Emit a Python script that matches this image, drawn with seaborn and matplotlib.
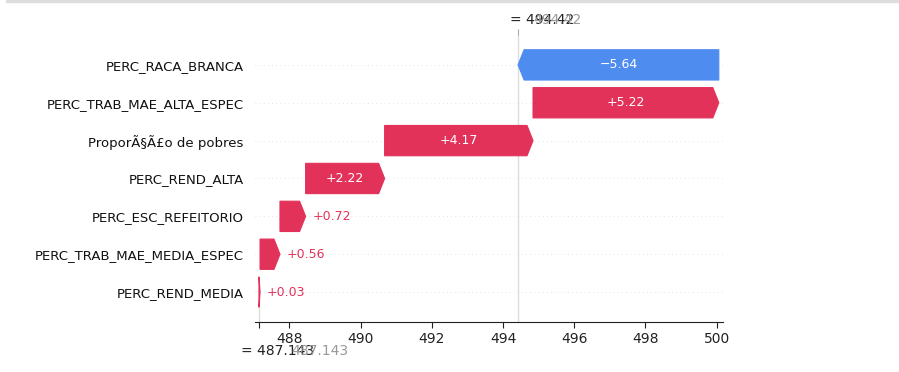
import matplotlib
matplotlib.use("Agg")
import matplotlib.pyplot as plt
import numpy as np
import seaborn as sns

# data (bottom row first)
features = ["PERC_REND_MEDIA", "PERC_TRAB_MAE_MEDIA_ESPEC", "PERC_ESC_REFEITORIO",
            "PERC_REND_ALTA", "ProporÃ§Ã£o de pobres", "PERC_TRAB_MAE_ALTA_ESPEC",
            "PERC_RACA_BRANCA"]
shap_values = [0.03, 0.56, 0.72, 2.22, 4.17, 5.22, -5.64]
value_labels = ["+0.03", "+0.56", "+0.72", "+2.22", "+4.17", "+5.22", "\u22125.64"]
base_value = 487.143
fx_value = 494.42
base_text = "487.143"
fx_text = "494.42"
xticks = [488, 490, 492, 494, 496, 498, 500]

red = "#e2325a"
blue = "#4f8cf0"

sns.set_theme(style="white")
plt.rcParams["font.family"] = ["DejaVu Sans"]

fig = plt.figure(figsize=(8.99, 3.72), dpi=100)
ax = fig.add_axes([0.2836, 0.1344, 0.5206, 0.7716])

xlim = (487.03, 500.18)
ax.set_xlim(*xlim)
ax.set_ylim(-0.79, 6.79)
px_per_unit = 0.5206 * 899 / (xlim[1] - xlim[0])
hl = 6 / px_per_unit
bar_w = 0.8

lefts = base_value + np.concatenate([[0], np.cumsum(shap_values)[:-1]])
for i, (left, v) in enumerate(zip(lefts, shap_values)):
    ax.axhline(i, color="#cccccc", lw=0.5, dashes=(1, 5), zorder=-1)
    c = red if v > 0 else blue
    d = abs(v)
    sgn = 1 if v > 0 else -1
    ax.arrow(left, i, sgn * max(d - hl, 1e-6), 0, head_length=min(d, hl),
             width=bar_w, head_width=bar_w, color=c, lw=0.8,
             length_includes_head=False)
    if d * px_per_unit > 60:
        ax.text(left + v / 2, i, value_labels[i], ha="center", va="center",
                color="white", fontsize=9)
    else:
        ax.text(left + v + 7 / px_per_unit, i, value_labels[i], ha="left",
                va="center", color=c, fontsize=9)

ax.axvline(fx_value, 0, 1, color="#dddddd", lw=1, zorder=-2)
ax.axvline(base_value, 0, 1 / 7.6, color="#dddddd", lw=1, zorder=-2)

ax.set_yticks(range(len(features)))
ax.set_yticklabels(features, fontsize=9.5, color="#111111")
ax.tick_params(axis="y", length=0, pad=8)
ax.set_xticks(xticks)
ax.set_xticks([base_value], minor=True)
ax.tick_params(axis="x", which="both", bottom=True, length=4, width=0.8,
               color="#222222", labelsize=10, labelcolor="#222222", pad=3)
sns.despine(ax=ax, left=True, top=True, right=True)
ax.spines["bottom"].set_color("#222222")
ax.spines["bottom"].set_linewidth(0.8)

ax2 = ax.twiny()
ax2.set_xlim(*xlim)
ax2.set_xticks([fx_value])
ax2.set_xticklabels([""])
ax2.tick_params(axis="x", length=4, width=0.8, color="#aaaaaa")
for s in ax2.spines.values():
    s.set_visible(False)

# f(x) and E[f(X)] annotations
ax.annotate("= " + fx_text, (fx_value, 1), xycoords=("data", "axes fraction"),
            xytext=(-6, 11), textcoords="offset points", ha="left", va="center",
            fontsize=10, color="#222222")
ax.annotate(fx_text, (fx_value, 1), xycoords=("data", "axes fraction"),
            xytext=(11, 11), textcoords="offset points", ha="left", va="center",
            fontsize=10, color="#999999")
ax.annotate("= " + base_text, (base_value, 0), xycoords=("data", "axes fraction"),
            xytext=(-13, -21), textcoords="offset points", ha="left", va="center",
            fontsize=10, color="#222222")
ax.annotate(base_text, (base_value, 0), xycoords=("data", "axes fraction"),
            xytext=(23, -21), textcoords="offset points", ha="left", va="center",
            fontsize=10, color="#999999")

# screenshot border line at top
fig.add_artist(plt.Line2D([0.008, 1], [0.996, 0.996], color="#dddddd", lw=2.5,
                          transform=fig.transFigure))

fig.savefig("out.png", dpi=100)
